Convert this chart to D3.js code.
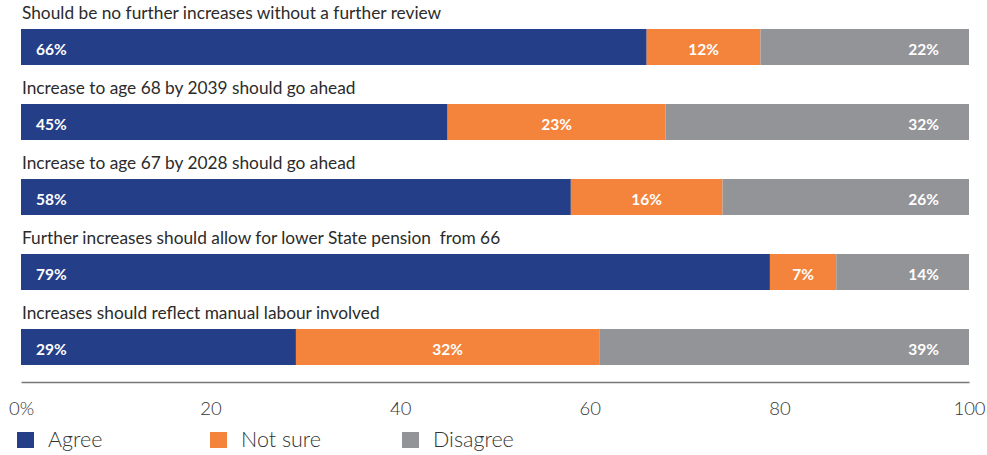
<!DOCTYPE html>
<html>
<head>
<meta charset="utf-8">
<script src="https://cdn.jsdelivr.net/npm/d3@7/dist/d3.min.js"></script>
<style>
  html, body { margin: 0; padding: 0; background: #fff; }
  svg { display: block; font-family: Lato, "Open Sans", sans-serif; }
  .title { white-space: pre; }
</style>
</head>
<body>
<svg id="chart" width="987" height="455"></svg>
<script>
// Survey statements and response shares (%)
const statements = [
  "Should be no further increases without a further review",
  "Increase to age 68 by 2039 should go ahead",
  "Increase to age 67 by 2028 should go ahead",
  "Further increases should allow for lower State pension  from 66",
  "Increases should reflect manual labour involved"
];
const agree    = [66, 45, 58, 79, 29];
const notSure  = [12, 23, 16, 7, 32];
const disagree = [22, 32, 26, 14, 39];

const seriesNames = ["Agree", "Not sure", "Disagree"];
const seriesColors = ["#243e88", "#f4843b", "#939497"];
const tickValues = [0, 20, 40, 60, 80, 100];

const svg = d3.select("#chart");

const x = d3.scaleLinear().domain([0, 100]).range([21, 969]);
const y = d3.scaleBand()
  .domain(statements)
  .range([29, 365])
  .paddingInner(0.52)
  .paddingOuter(0);

const rows = statements.map((s, i) => ({
  statement: s,
  "Agree": agree[i],
  "Not sure": notSure[i],
  "Disagree": disagree[i]
}));

const stacked = d3.stack().keys(seriesNames)(rows);

// Statement titles above each bar
svg.append("g").selectAll("text")
  .data(statements)
  .join("text")
  .attr("class", "title")
  .attr("x", x(0) + 1)
  .attr("y", d => y(d) - 10)
  .attr("fill", "#2b2b2b")
  .attr("font-size", "17.3px")
  .text(d => d);

// Stacked segments
const layers = svg.append("g").selectAll("g")
  .data(stacked)
  .join("g")
  .attr("fill", (d, i) => seriesColors[i]);

layers.selectAll("rect")
  .data(d => d)
  .join("rect")
  .attr("x", d => x(d[0]))
  .attr("width", d => x(d[1]) - x(d[0]))
  .attr("y", d => y(d.data.statement))
  .attr("height", y.bandwidth());

// Value labels inside segments
layers.each(function(layer, li) {
  d3.select(this).selectAll("text")
    .data(layer)
    .join("text")
    .attr("fill", "#fff")
    .attr("font-weight", "bold")
    .attr("font-size", "15.5px")
    .attr("dominant-baseline", "central")
    .attr("y", d => y(d.data.statement) + y.bandwidth() / 2 + 1.5)
    .attr("x", d => li === 0 ? x(d[0]) + 15 : li === 1 ? (x(d[0]) + x(d[1])) / 2 : x(d[1]) - 30)
    .attr("text-anchor", li === 0 ? "start" : li === 1 ? "middle" : "end")
    .text(d => (d[1] - d[0]) + "%");
});

// Horizontal axis
const axis = svg.append("g")
  .attr("transform", "translate(0,382)")
  .call(d3.axisBottom(x)
    .tickValues(tickValues)
    .tickSize(0)
    .tickPadding(0)
    .tickFormat(d => d === 0 ? "0%" : d));
axis.select(".domain").attr("stroke", "#777").attr("stroke-width", 1.5);
axis.selectAll(".tick text")
  .attr("font-family", "Lato, sans-serif")
  .attr("font-weight", 300)
  .attr("font-size", "18.5px")
  .attr("fill", "#333")
  .attr("dy", null)
  .attr("y", 33);

// Legend
const legendX = [17, 210, 402];
const legend = svg.append("g").selectAll("g")
  .data(seriesNames)
  .join("g")
  .attr("transform", (d, i) => `translate(${legendX[i]},432)`);
legend.append("rect")
  .attr("width", 17)
  .attr("height", 16)
  .attr("fill", (d, i) => seriesColors[i]);
legend.append("text")
  .attr("x", 31)
  .attr("y", 15)
  .attr("font-weight", 300)
  .attr("font-size", "21.5px")
  .attr("fill", "#333")
  .text(d => d);
</script>
</body>
</html>
